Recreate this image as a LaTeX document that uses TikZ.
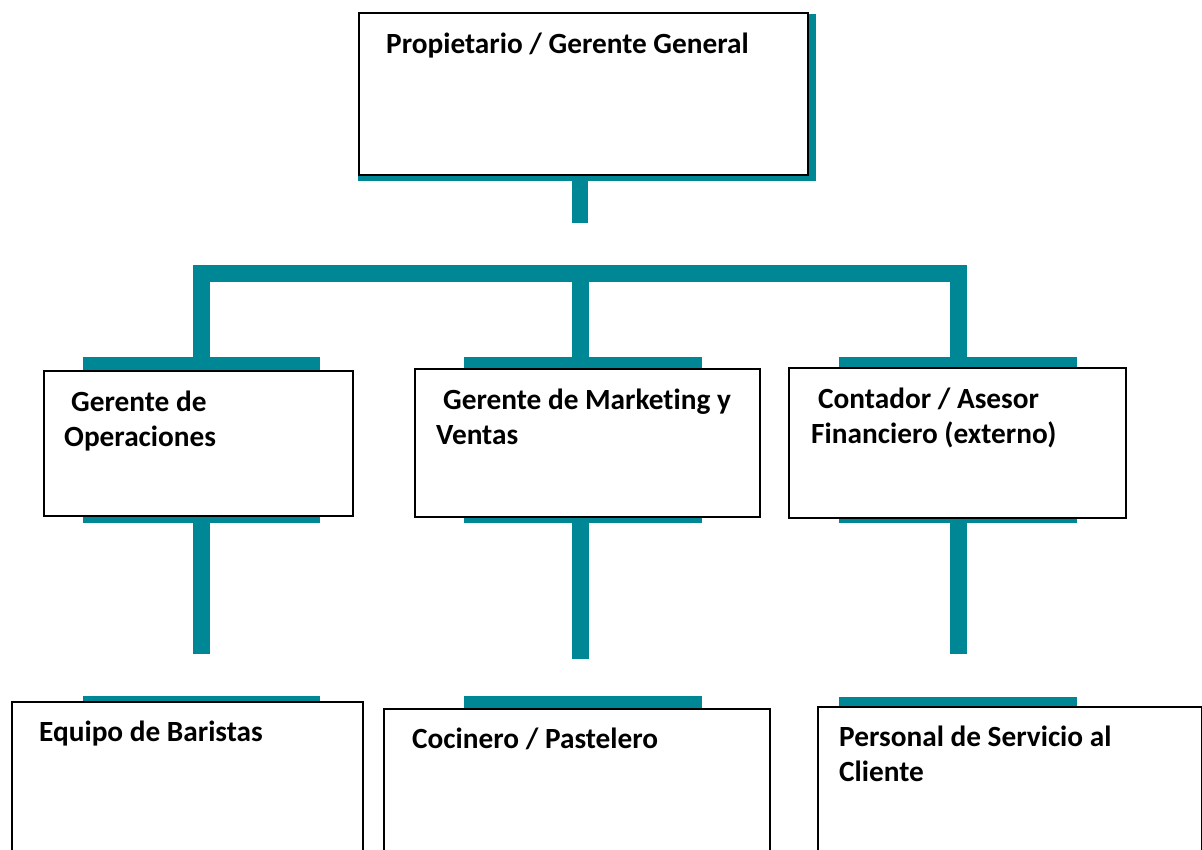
\documentclass[tikz,border=0pt]{standalone}
\usepackage{fontspec}
\setmainfont{Carlito}[Ligatures=NoCommon]
\usetikzlibrary{positioning}
\definecolor{tealbar}{RGB}{0,135,150}

\begin{document}
\begin{tikzpicture}[x=1pt, y=-1pt,
    box/.style={rectangle, draw=black, line width=1.6pt, fill=white,
                anchor=north west, inner sep=0pt},
    back/.style={rectangle, fill=tealbar, anchor=north west, inner sep=0pt},
    bar/.style={draw=tealbar, line width=17pt, line join=miter},
    lbl/.style={anchor=base west, inner sep=0pt, align=left,
                font=\fontsize{29.3}{35}\selectfont\bfseries},
  ]

  \useasboundingbox (0,0) rectangle (1202,849);
  \clip (0,0) rectangle (1202,849);

  % Teal backings
  \node[back, minimum width=458, minimum height=167] (gmB)  at (358, 14) {};
  \node[back, minimum width=237, minimum height=166] (opsB) at (83, 357) {};
  \node[back, minimum width=238, minimum height=166] (mktB) at (464, 357) {};
  \node[back, minimum width=238, minimum height=166] (finB) at (839, 357) {};
  \node[back, minimum width=237, minimum height=220] (barB) at (83, 696) {};
  \node[back, minimum width=238, minimum height=220] (cocB) at (464, 696) {};
  \node[back, minimum width=238, minimum height=220] (srvB) at (839, 697) {};

  % Bus coordinates and free stem ends
  \coordinate (busL) at (201, 273);
  \coordinate (busM) at (580, 273);
  \coordinate (busR) at (958.5, 273);
  \coordinate (gmEnd)  at (580, 223);
  \coordinate (opsEnd) at (201, 654);
  \coordinate (mktEnd) at (580, 659);
  \coordinate (finEnd) at (958.5, 654);

  % Connectors
  \draw[bar, line width=16pt] (gmB.south -| gmEnd) -- (gmEnd);
  \draw[bar] (opsB.north -| busL) -- (busL) -- (busR) -- (finB.north -| busR);
  \draw[bar] (busM) -- (mktB.north -| busM);
  \draw[bar] (opsB.south -| opsEnd) -- (opsEnd);
  \draw[bar] (mktB.south -| mktEnd) -- (mktEnd);
  \draw[bar] (finB.south -| finEnd) -- (finEnd);

  % Boxes
  \node[box, minimum width=449, minimum height=162] (gm)  at (358, 12) {};
  \node[box, minimum width=309, minimum height=145] (ops) at (43, 370) {};
  \node[box, minimum width=345, minimum height=148] (mkt) at (414, 368) {};
  \node[box, minimum width=337, minimum height=150] (fin) at (788, 367) {};
  \node[box, minimum width=351, minimum height=220] (bar) at (11, 701) {};
  \node[box, minimum width=386, minimum height=220] (coc) at (383, 708) {};
  \node[box, minimum width=384, minimum height=220] (srv) at (817, 706) {};

  % Labels (base = last line)
  \node[lbl] (gmT)  at (386, 53)  {Propietario / Gerente General};
  \node[lbl] (opsT) at (64, 446)  {\hspace*{7pt}Gerente de\\Operaciones};
  \node[lbl] (mktT) at (436, 444) {\hspace*{7pt}Gerente de Marketing y\\Ventas};
  \node[lbl] (finT) at (811, 443) {\hspace*{7pt}Contador / Asesor\\Financiero (externo)};
  \node[lbl] (barT) at (39, 741)  {Equipo de Baristas};
  \node[lbl] (cocT) at (412, 748) {Cocinero / Pastelero};
  \node[lbl] (srvT) at (839, 781) {Personal de Servicio al\\Cliente};

\end{tikzpicture}
\end{document}
